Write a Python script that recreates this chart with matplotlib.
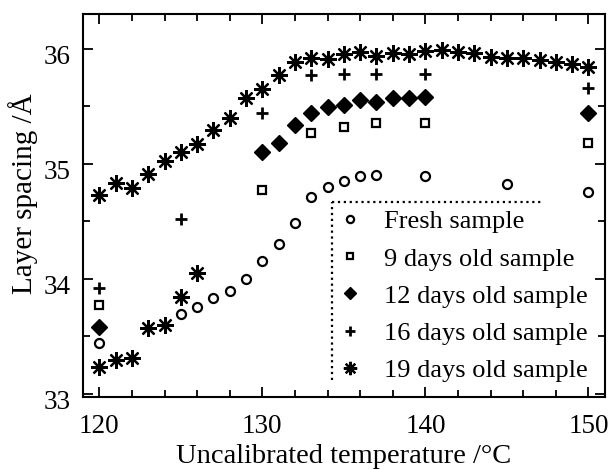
import numpy as np
import matplotlib
matplotlib.use("Agg")
import matplotlib.pyplot as plt
from matplotlib.ticker import MultipleLocator
from matplotlib.transforms import ScaledTranslation

plt.rcParams['font.family'] = ['Liberation Serif', 'DejaVu Serif']

# fresh sample
t_fresh = [120, 125, 126, 127, 128, 129, 130, 131, 132, 133, 134, 135, 136, 137, 140, 145, 150]
d_fresh = [33.44, 33.69, 33.75, 33.83, 33.89, 34.00, 34.15, 34.30, 34.48, 34.71, 34.80, 34.85,
           34.89, 34.90, 34.89, 34.82, 34.75]

# 9 days old
t_9 = [120, 130, 133, 135, 137, 140, 150]
d_9 = [33.77, 34.77, 35.27, 35.32, 35.35, 35.35, 35.18]

# 12 days old
t_12 = [120, 130, 131, 132, 133, 134, 135, 136, 137, 138, 139, 140, 150]
d_12 = [33.58, 35.10, 35.18, 35.34, 35.44, 35.49, 35.51, 35.55, 35.54, 35.57, 35.57, 35.58, 35.44]

# 16 days old
t_16 = [120, 125, 130, 133, 135, 137, 140, 150]
d_16 = [33.92, 34.52, 35.44, 35.77, 35.78, 35.78, 35.78, 35.66]

# 19 days old (upper branch 120-150, lower branch 120-126)
t_19 = [120, 121, 122, 123, 124, 125, 126, 127, 128, 129, 130, 131, 132, 133, 134, 135, 136,
        137, 138, 139, 140, 141, 142, 143, 144, 145, 146, 147, 148, 149, 150]
d_19 = [34.73, 34.83, 34.79, 34.91, 35.02, 35.10, 35.17, 35.29, 35.40, 35.57, 35.65, 35.77,
        35.88, 35.92, 35.91, 35.95, 35.97, 35.94, 35.96, 35.95, 35.98, 35.99, 35.97, 35.96,
        35.93, 35.92, 35.92, 35.90, 35.88, 35.87, 35.84]
t_19b = [120, 121, 122, 123, 124, 125, 126]
d_19b = [33.23, 33.29, 33.31, 33.57, 33.60, 33.84, 34.05]

labels = ['Fresh sample', '9 days old sample', '12 days old sample',
          '16 days old sample', '19 days old sample']

fig = plt.figure(figsize=(6.11, 4.70), dpi=100)
ax = fig.add_axes([0.1358, 0.155, 0.854, 0.815])

ax.plot(t_fresh, d_fresh, 'o', ls='none', mfc='white', mec='black', ms=6.5, mew=1.6, label=labels[0])
ax.plot(t_9, d_9, 's', ls='none', mfc='white', mec='black', ms=6, mew=1.6, label=labels[1])
ax.plot(t_12, d_12, 'D', ls='none', color='black', ms=8, label=labels[2])
ax.plot(t_16, d_16, '+', ls='none', color='black', ms=9, mew=2, label=labels[3])
ax.plot(t_19, d_19, marker=(8, 2, 0), ls='none', color='black', ms=12, mew=1.6, label=labels[4])
ax.plot(t_19b, d_19b, marker=(8, 2, 0), ls='none', color='black', ms=12, mew=1.6)
# filled centres of the stars
ax.plot(t_19 + t_19b, d_19 + d_19b, 'o', ls='none', color='black', ms=4)

ax.set_xlim(119, 151)
ax.set_ylim(32.97, 36.3)
ax.xaxis.set_major_locator(MultipleLocator(10))
ax.xaxis.set_minor_locator(MultipleLocator(2))
ax.yaxis.set_major_locator(MultipleLocator(1))
ax.yaxis.set_minor_locator(MultipleLocator(0.5))
ax.tick_params(which='both', direction='in', top=True, right=True, labelsize=19.5, width=1.3)
ax.tick_params(which='major', length=7)
ax.tick_params(which='minor', length=5)
ax.tick_params(axis='x', pad=12)
ax.tick_params(axis='y', pad=9)
for s in ax.spines.values():
    s.set_linewidth(1.5)

# y tick labels sit a little below their ticks in the original
off = ScaledTranslation(0, -6 / 100, fig.dpi_scale_trans)
for lbl in ax.get_yticklabels():
    lbl.set_transform(lbl.get_transform() + off)

ax.set_xlabel('Uncalibrated temperature /°C', fontsize=20.5, labelpad=4)
ax.set_ylabel('Layer spacing /Å', fontsize=21)
ax.yaxis.set_label_coords(-0.086, 0.53)

# legend with dotted left/top border
ax.plot([134.27, 134.27], [33.12, 34.67], ':', color='black', lw=1.6)
ax.plot([134.27, 147.07], [34.67, 34.67], ':', color='black', lw=1.6)
leg = ax.legend(loc='upper left', bbox_to_anchor=(0.491, 0.489), frameon=False, fontsize=19,
                handlelength=0.8, handletextpad=0.9, labelspacing=0.52, markerscale=0.8,
                borderaxespad=0, borderpad=0)

fig.savefig('out.png', dpi=100)
